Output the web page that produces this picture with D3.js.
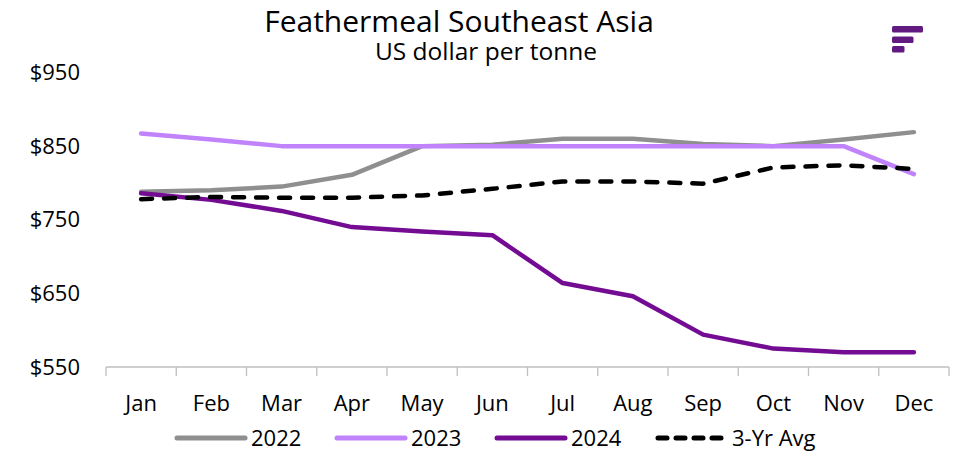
<!DOCTYPE html>
<html>
<head>
<meta charset="utf-8">
<script src="https://cdn.jsdelivr.net/npm/d3@7"></script>
<style>
  body { margin: 0; background: #fff; }
  svg text { font-family: "Open Sans", sans-serif; fill: #000; }
</style>
</head>
<body>
<svg id="chart" width="961" height="456"></svg>
<script>
const months = ["Jan", "Feb", "Mar", "Apr", "May", "Jun", "Jul", "Aug", "Sep", "Oct", "Nov", "Dec"];
const yTicks = [550, 650, 750, 850, 950];

const v2022 = [788, 790, 795, 811, 850, 852, 860, 860, 853, 850, 859, 869];
const v2023 = [867, 859, 850, 850, 850, 850, 850, 850, 850, 850, 850, 812];
const v2024 = [786, 777, 762, 740, 734, 729, 664, 646, 594, 575, 570, 570];
const vAvg  = [778, 781, 780, 780, 783, 792, 802, 802, 799, 821, 824, 819];

const series = [
    { name: "2022", values: v2022, color: "#8f8f8f", dash: null },
    { name: "2023", values: v2023, color: "#c183fb", dash: null },
    { name: "2024", values: v2024, color: "#730b93", dash: null },
    { name: "3-Yr Avg", values: vAvg, color: "#000000", dash: "11,12" }
];

const svg = d3.select("#chart");

const x = d3.scaleBand().domain(months).range([106, 949]).padding(0);
const y = d3.scaleLinear().domain([550, 950]).range([367, 72.5]);

// Title + subtitle
svg.append("text")
    .attr("x", 459).attr("y", 32)
    .attr("text-anchor", "middle")
    .style("font-size", "30px")
    .text("Feathermeal Southeast Asia");

svg.append("text")
    .attr("x", 486).attr("y", 60)
    .attr("text-anchor", "middle")
    .style("font-size", "24.5px")
    .text("US dollar per tonne");

// logo bars
const logo = svg.append("g").attr("fill", "#601a80");
[[892, 26, 31], [892, 36.5, 21.5], [892, 46, 12.5]].forEach(b => {
    logo.append("rect").attr("x", b[0]).attr("y", b[1])
        .attr("width", b[2]).attr("height", 6.5).attr("rx", 1.5);
});

// y labels
svg.append("g").selectAll("text")
    .data(yTicks)
    .join("text")
    .attr("x", 80)
    .attr("y", d => y(d))
    .attr("dy", "0.35em")
    .attr("text-anchor", "end")
    .style("font-size", "22px")
    .text(d => "$" + d);

// x axis line + boundary ticks
const axisG = svg.append("g").attr("stroke", "#bfbfbf").attr("stroke-width", 1.3);
axisG.append("line")
    .attr("x1", x.range()[0]).attr("x2", x.range()[1])
    .attr("y1", y(550)).attr("y2", y(550));
const bounds = months.map(m => x(m)).concat([x.range()[1]]);
axisG.selectAll("line.tick")
    .data(bounds)
    .join("line")
    .attr("class", "tick")
    .attr("x1", d => d).attr("x2", d => d)
    .attr("y1", y(550)).attr("y2", y(550) + 9);

// month labels
svg.append("g").selectAll("text")
    .data(months)
    .join("text")
    .attr("x", d => x(d) + x.bandwidth() / 2)
    .attr("y", 411)
    .attr("text-anchor", "middle")
    .style("font-size", "22px")
    .text(d => d);

// lines
const line = d3.line()
    .x((d, i) => x(months[i]) + x.bandwidth() / 2)
    .y(d => y(d));

svg.append("g").selectAll("path")
    .data(series)
    .join("path")
    .attr("d", d => line(d.values))
    .attr("fill", "none")
    .attr("stroke", d => d.color)
    .attr("stroke-width", 4.5)
    .attr("stroke-linejoin", "round")
    .attr("stroke-linecap", "round")
    .attr("stroke-dasharray", d => d.dash);

// legend
const legendX = [175, 335, 495, 656];
const leg = svg.append("g").selectAll("g")
    .data(series)
    .join("g")
    .attr("transform", (d, i) => `translate(${legendX[i]},438)`);
leg.append("line")
    .attr("x1", 2).attr("x2", 70)
    .attr("stroke", d => d.color)
    .attr("stroke-width", 5)
    .attr("stroke-linecap", "round")
    .attr("stroke-dasharray", d => d.dash ? "9,9" : null);
leg.append("text")
    .attr("x", 76)
    .attr("dy", "0.35em")
    .style("font-size", "22px")
    .text(d => d.name);
</script>
</body>
</html>
